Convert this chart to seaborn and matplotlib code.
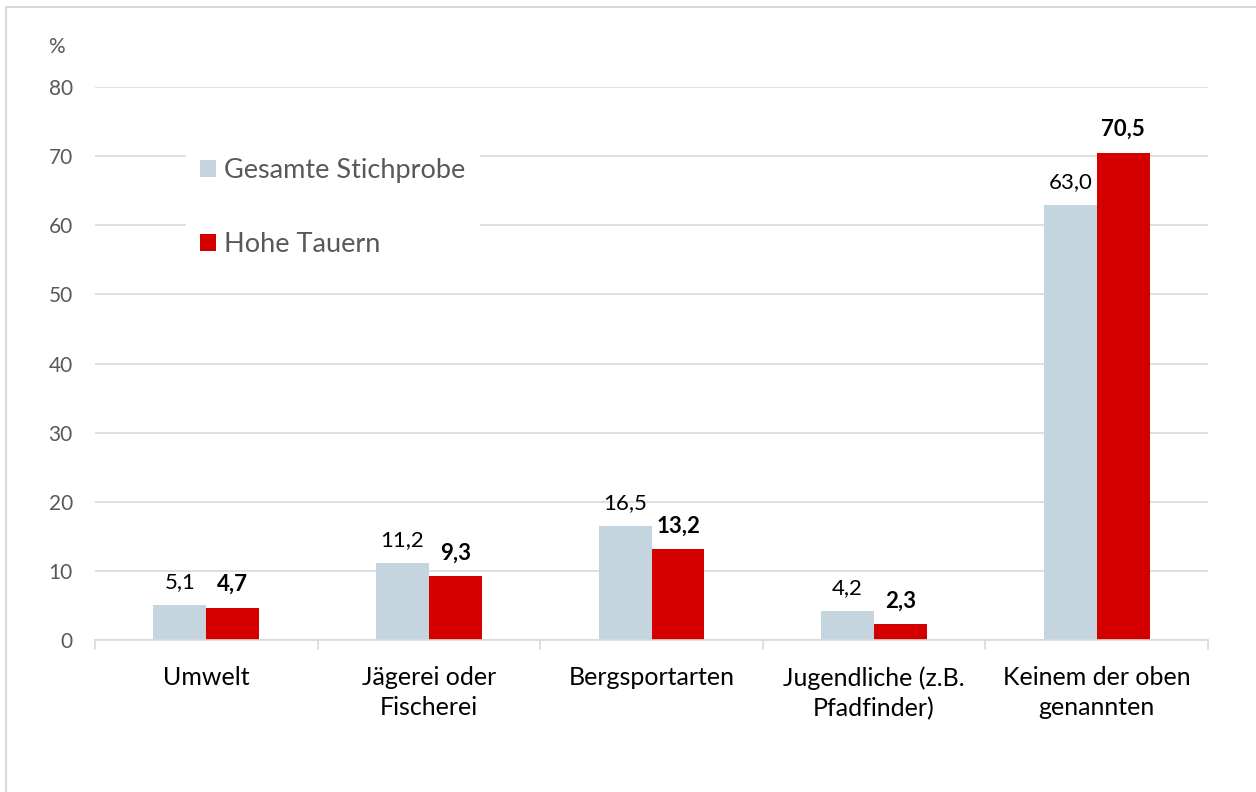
import matplotlib
matplotlib.use("Agg")
import matplotlib.pyplot as plt
import matplotlib.patches as mpatches
import numpy as np
import pandas as pd
import seaborn as sns

# data
categories = ["Umwelt", "Jägerei oder\nFischerei", "Bergsportarten",
              "Jugendliche (z.B.\nPfadfinder)", "Keinem der oben\ngenannten"]
gesamt = [5.1, 11.2, 16.5, 4.2, 63.0]
hohe_tauern = [4.7, 9.3, 13.2, 2.3, 70.5]
series = ["Gesamte Stichprobe", "Hohe Tauern"]
yticks = [0, 10, 20, 30, 40, 50, 60, 70, 80]

colors = {"Gesamte Stichprobe": "#C4D5DF", "Hohe Tauern": "#D40000"}

df = pd.DataFrame({
    "cat": categories * 2,
    "val": gesamt + hohe_tauern,
    "serie": [series[0]] * len(categories) + [series[1]] * len(categories),
})

sns.set_theme(style="white")
plt.rcParams["font.family"] = ["Lato", "DejaVu Sans"]

fig = plt.figure(figsize=(12.56, 7.92), dpi=100)
ax = fig.add_axes([95 / 1256, 1 - 640 / 792, (1208 - 95) / 1256, (640 - 87) / 792])

sns.barplot(data=df, x="cat", y="val", hue="serie", palette=colors,
            width=0.476, gap=0, saturation=1, linewidth=0, ax=ax, legend=True)

ax.set_ylim(0, 80)
ax.set_xlim(-0.5, len(categories) - 0.5)
ax.set_yticks(yticks)
ax.grid(axis="y", color="#D9D9D9", linewidth=1.2)
ax.set_axisbelow(True)
for s in ["top", "right", "left"]:
    ax.spines[s].set_visible(False)
ax.spines["bottom"].set_color("#D9D9D9")
ax.spines["bottom"].set_linewidth(1.2)
ax.tick_params(axis="y", length=0, labelsize=15, labelcolor="#595959", pad=16)
ax.tick_params(axis="x", length=0, labelsize=18, labelcolor="#000000", pad=19)
for t in ax.get_xticklabels():
    t.set_linespacing(1.35)
ax.set_xlabel("")
ax.set_ylabel("")

# category boundary ticks
for b in np.arange(-0.5, len(categories), 1.0):
    ax.plot([b, b], [0, -1.3], color="#D9D9D9", lw=1.2, clip_on=False)

# value labels
for i, cont in enumerate(ax.containers):
    vals = [gesamt, hohe_tauern][i]
    labels = [f"{v:.1f}".replace(".", ",") for v in vals]
    ax.bar_label(cont, labels=labels, padding=9, fontsize=16,
                 fontweight="bold" if i == 1 else "normal", color="black")

fig.text(48 / 1256, 1 - 47 / 792, "%", fontsize=15, color="#595959",
         ha="left", va="center")

leg = ax.legend(loc="upper left", bbox_to_anchor=(0.082, 0.896), frameon=True,
                fontsize=19.5, handlelength=0.6, handleheight=0.6,
                labelspacing=1.8, handletextpad=0.3, borderpad=0.5,
                borderaxespad=0)
leg.get_frame().set_facecolor("white")
leg.get_frame().set_edgecolor("white")
leg.get_frame().set_alpha(1)
leg.get_frame().set_boxstyle("square", pad=0)
for t in leg.get_texts():
    t.set_color("#595959")

# outer frame of the chart area
fig.patches.append(mpatches.Rectangle((6 / 1256, -0.05), 1.2, 1 - 7 / 792 + 0.05,
                                      transform=fig.transFigure, fill=False,
                                      edgecolor="#D9D9D9", linewidth=1.5))

fig.savefig("out.png", dpi=100)
